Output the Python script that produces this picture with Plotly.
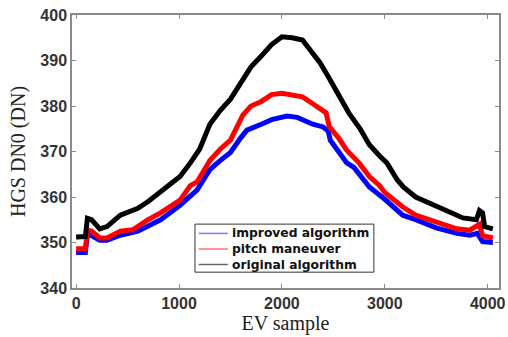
import plotly.graph_objects as go

# ---- data ----
black_x = [0, 90, 110, 150, 230, 300, 430, 600, 700, 820, 1010, 1110, 1200, 1300, 1400, 1500, 1600, 1700,
           1800, 1900, 2000, 2100, 2200, 2300, 2370, 2450, 2560, 2650, 2760, 2850, 2950, 3020, 3120, 3180,
           3300, 3400, 3500, 3600, 3700, 3760, 3890, 3920, 3950, 3970, 4050]
black_y = [351.2, 351.3, 355.3, 355.0, 353.0, 353.5, 356.0, 357.5, 359.0, 361.0, 364.5, 367.5, 370.5, 376.0,
           379.0, 381.5, 385.0, 388.6, 391.0, 393.5, 395.2, 395.0, 394.5, 391.5, 389.5, 386.5, 382.0, 378.5,
           375.0, 371.5, 369.0, 367.5, 363.8, 362.2, 360.0, 359.0, 357.8, 357.0, 356.0, 355.4, 355.0, 357.0,
           356.5, 353.5, 353.0]

red_x = [0, 90, 110, 150, 230, 300, 430, 550, 700, 820, 1010, 1110, 1175, 1300, 1400, 1500, 1620, 1700, 1800,
         1900, 2000, 2100, 2200, 2300, 2400, 2430, 2460, 2550, 2630, 2750, 2850, 2950, 3000, 3100, 3175, 3300,
         3500, 3700, 3825, 3900, 3920, 3950, 4050]
red_y = [348.6, 348.6, 352.7, 352.5, 351.0, 351.0, 352.5, 352.8, 355.0, 356.5, 359.3, 362.5, 363.3, 368.0,
         370.5, 372.5, 378.0, 380.0, 381.0, 382.5, 382.8, 382.5, 382.0, 380.5, 379.0, 378.5, 375.5, 373.0,
         370.3, 367.5, 364.5, 362.5, 361.0, 359.0, 357.8, 356.0, 354.5, 353.0, 352.7, 353.5, 354.0, 351.5, 351.0]

blue_x = [0, 90, 110, 150, 230, 300, 430, 600, 820, 1010, 1175, 1300, 1400, 1500, 1600, 1660, 1800, 1900, 2050,
          2150, 2300, 2400, 2450, 2470, 2550, 2630, 2700, 2850, 3000, 3175, 3300, 3500, 3700, 3825, 3900, 3950, 4050]
blue_y = [347.8, 347.8, 351.8, 351.5, 350.5, 350.5, 351.6, 352.5, 355.0, 358.2, 361.5, 366.0, 368.0, 369.8,
          373.0, 374.7, 376.0, 377.0, 377.8, 377.5, 376.0, 375.4, 374.5, 372.5, 370.0, 367.5, 366.5, 362.2,
          359.5, 356.0, 355.0, 353.2, 352.0, 351.6, 352.0, 350.2, 350.0]

names = ["improved algorithm", "pitch maneuver", "original algorithm"]
colors = ["#0000ff", "#ff0000", "#000000"]
legend_colors = ["rgba(90,90,255,0.8)", "rgba(255,80,80,0.8)", "rgba(60,60,60,0.8)"]
x_ticks = [0, 1000, 2000, 3000, 4000]
y_ticks = [340, 350, 360, 370, 380, 390, 400]

fig = go.Figure()
for xs, ys, c in [(blue_x, blue_y, colors[0]), (red_x, red_y, colors[1]), (black_x, black_y, colors[2])]:
    fig.add_trace(go.Scatter(x=xs, y=ys, mode="lines", line=dict(color=c, width=5),
                             showlegend=False, hoverinfo="skip"))

tick_font = dict(family="Liberation Sans, Arial, sans-serif", size=16, color="#333333", weight="bold")
axis_common = dict(showgrid=False, zeroline=False, showline=True, linecolor="#8a8a8a", linewidth=1.5,
                   mirror="ticks", ticks="inside", ticklen=4, tickcolor="#8a8a8a",
                   tickfont=tick_font, automargin=False)
title_font = dict(family="Liberation Serif, Times New Roman, serif", size=20, color="#222222")

# manual legend box (paper coordinates of the plot area)
lx0, lx1, ly0, ly1 = 0.288, 0.707, 0.058, 0.234
row_y = [0.200, 0.143, 0.086]
shapes = [dict(type="rect", xref="paper", yref="paper", x0=lx0, x1=lx1, y0=ly0, y1=ly1,
               line=dict(color="#333333", width=1), fillcolor="white", layer="above")]
for c, yy in zip(legend_colors, row_y):
    shapes.append(dict(type="line", xref="paper", yref="paper", x0=0.297, x1=0.365, y0=yy, y1=yy,
                       line=dict(color=c, width=1.5), layer="above"))
annotations = [dict(text="<br>".join(names), xref="paper", yref="paper", x=0.370, y=0.143,
                    xanchor="left", yanchor="middle", align="left", showarrow=False,
                    font=dict(family="DejaVu Sans, Verdana, sans-serif", size=12.3,
                              color="#111111", weight="bold"))]

fig.update_layout(
    width=508, height=337,
    margin=dict(l=72, r=9, t=15, b=49),
    paper_bgcolor="white", plot_bgcolor="white",
    showlegend=False,
    xaxis=dict(range=[-40, 4110], tickvals=x_ticks, **axis_common,
               title=dict(text="EV sample", standoff=3, font=title_font)),
    yaxis=dict(range=[340, 400], tickvals=y_ticks, **axis_common,
               title=dict(text="HGS DN0 (DN)", standoff=9, font=title_font)),
    shapes=shapes,
    annotations=annotations,
)
# remove the browser's default 8px body margin so the figure fills the window exactly
fig.write_html("out.html", config={"displayModeBar": False},
               post_script="document.body.style.margin='0px';")
